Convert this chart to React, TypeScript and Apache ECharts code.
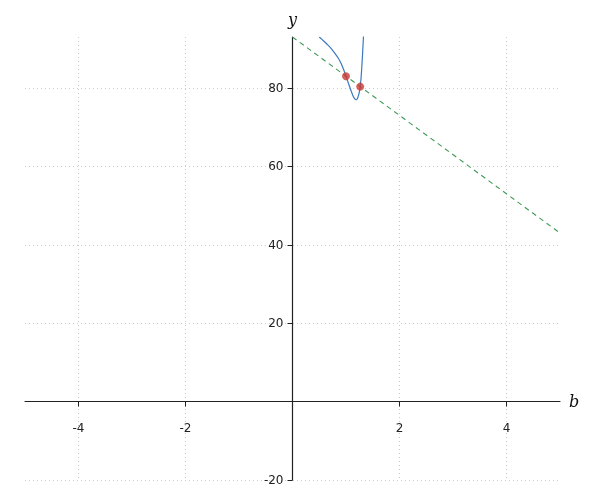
import React, { useEffect, useRef } from "react";
import * as echarts from "echarts";

const xMin = -5;
const xMax = 5;
const yMin = -20;
const yMax = 93;
const xTicks = [-4, -2, 2, 4];
const yTicks = [-20, 20, 40, 60, 80];
const curveX = [0.5, 0.55, 0.6, 0.65, 0.7, 0.75, 0.8, 0.85, 0.9, 0.95, 1.0, 1.05, 1.1, 1.13, 1.16, 1.19, 1.21, 1.23, 1.25, 1.265, 1.28, 1.29, 1.3, 1.31, 1.32, 1.33];
const curveY = [93.0, 92.4, 91.8, 91.1, 90.4, 89.6, 88.7, 87.7, 86.5, 84.9, 83.0, 81.0, 79.1, 78.0, 77.3, 77.0, 77.2, 77.9, 79.0, 80.35, 82.3, 84.2, 86.4, 88.8, 91.4, 94.0];
const lineX = [0, 5];
const lineY = [93, 43];
const pointX = [1.0, 1.265];
const pointY = [83, 80.35];

const W = 600;
const H = 500;
const G = { left: 25, right: 40, top: 37, bottom: 20 };

export default function App() {
  const ref = useRef<HTMLDivElement>(null);
  useEffect(() => {
    if (!ref.current) return;
    const chart = echarts.init(ref.current, null, { renderer: "svg" });
    const gw = W - G.left - G.right;
    const gh = H - G.top - G.bottom;
    const xOffset = ((0 - yMin) / (yMax - yMin)) * gh;
    const yOffset = ((0 - xMin) / (xMax - xMin)) * gw;
    const axisText = { color: "#222", fontFamily: "DejaVu Sans", fontSize: 12 };
    const gridLine = { show: true, lineStyle: { color: "#cccccc", type: [1, 3] as any, width: 1 } };
    chart.setOption({
      animation: false,
      grid: { ...G, containLabel: false, outerBoundsMode: "none" },
      xAxis: {
        type: "value",
        min: xMin,
        max: xMax,
        position: "bottom",
        offset: -xOffset,
        name: "b",
        nameLocation: "end",
        nameGap: 9,
        nameTextStyle: { fontFamily: "DejaVu Serif", fontStyle: "italic", fontSize: 16, color: "#111" },
        axisLine: { onZero: false, lineStyle: { color: "#222", width: 1.2 } },
        axisTick: { show: true, length: 5, customValues: xTicks, lineStyle: { color: "#222" } },
        axisLabel: { ...axisText, margin: 20, customValues: xTicks },
        splitLine: gridLine,
      },
      yAxis: {
        type: "value",
        min: yMin,
        max: yMax,
        position: "left",
        offset: -yOffset,
        name: "y",
        nameLocation: "end",
        nameGap: 10,
        nameTextStyle: { fontFamily: "DejaVu Serif", fontStyle: "italic", fontSize: 16, color: "#111" },
        axisLine: { onZero: false, lineStyle: { color: "#222", width: 1.2 } },
        axisTick: { show: true, length: 5, customValues: yTicks, lineStyle: { color: "#222" } },
        axisLabel: { ...axisText, margin: 9, customValues: yTicks },
        splitLine: gridLine,
      },
      series: [
        {
          type: "line",
          data: lineX.map((x, i) => [x, lineY[i]]),
          showSymbol: false,
          symbol: "none",
          lineStyle: { color: "#3f9a55", width: 1.1, type: [5, 4] as any },
          z: 2,
        },
        {
          type: "line",
          data: curveX.map((x, i) => [x, curveY[i]]),
          showSymbol: false,
          symbol: "none",
          smooth: 0.2,
          clip: true,
          lineStyle: { color: "#3b78c0", width: 1.2 },
          z: 3,
        },
        {
          type: "scatter",
          data: pointX.map((x, i) => [x, pointY[i]]),
          symbolSize: 8,
          itemStyle: { color: "#cc3a33" },
          z: 4,
        },
      ],
    });
    return () => chart.dispose();
  }, []);
  return <div ref={ref} style={{ position: "fixed", left: 0, top: 0, width: W, height: H }} />;
}
